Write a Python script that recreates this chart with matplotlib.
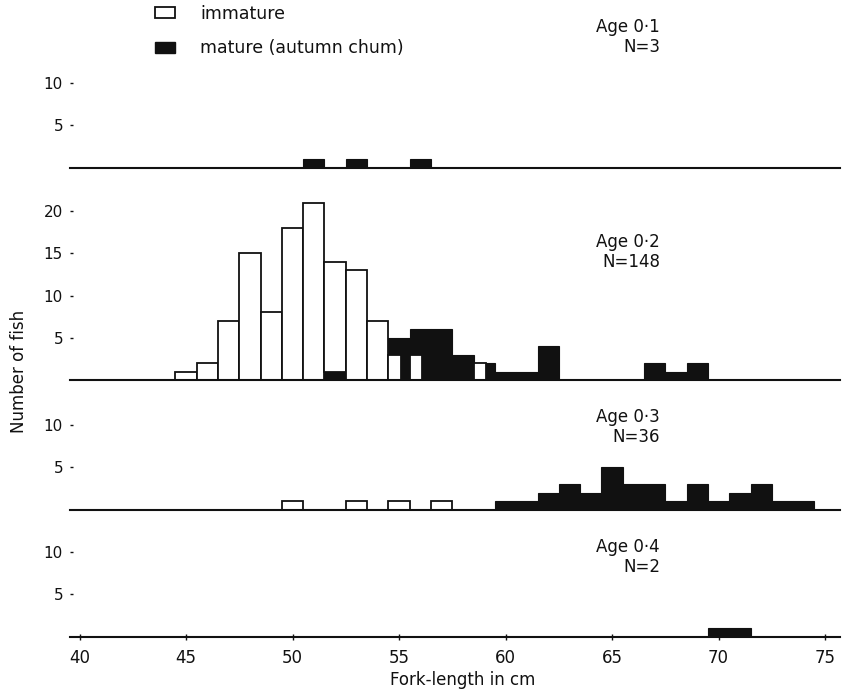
import matplotlib
matplotlib.use("Agg")
import matplotlib.pyplot as plt
from matplotlib.patches import Patch

# counts per 1-cm fork-length class
age01_mat_len = [51, 53, 56]
age01_mat_n = [1, 1, 1]

age02_imm_len = [45, 46, 47, 48, 49, 50, 51, 52, 53, 54, 55, 56, 59]
age02_imm_n = [1, 2, 7, 15, 8, 18, 21, 14, 13, 7, 3, 3, 2]
age02_mat_len = [52, 55, 56, 57, 58, 59, 60, 61, 62, 67, 68, 69]
age02_mat_n = [1, 5, 6, 6, 3, 2, 1, 1, 4, 2, 1, 2]

age03_imm_len = [50, 53, 55, 57]
age03_imm_n = [1, 1, 1, 1]
age03_mat_len = [60, 61, 62, 63, 64, 65, 66, 67, 68, 69, 70, 71, 72, 73, 74]
age03_mat_n = [1, 1, 2, 3, 2, 5, 3, 3, 1, 3, 1, 2, 3, 1, 1]

age04_mat_len = [70, 71]
age04_mat_n = [1, 1]

panel_titles = ["Age 0\u00b71\nN=3", "Age 0\u00b72\nN=148",
                "Age 0\u00b73\nN=36", "Age 0\u00b74\nN=2"]
xticks = [40, 45, 50, 55, 60, 65, 70, 75]

INK = "#111111"
W, H = 843, 691
PPU = 8.45  # pixels per fish

plt.rcParams['font.family'] = ['DejaVu Sans']

fig = plt.figure(figsize=(W / 100, H / 100), dpi=100)


def add_panel(base_px, ymax):
    top_px = base_px - ymax * PPU
    ax = fig.add_axes([70 / W, 1 - base_px / H, 770 / W, (base_px - top_px) / H])
    ax.set_xlim(39.554, 75.70)
    ax.set_ylim(0, ymax)
    for s in ["left", "right", "top"]:
        ax.spines[s].set_visible(False)
    ax.spines["bottom"].set_linewidth(1.5)
    ax.spines["bottom"].set_color(INK)
    ax.tick_params(axis="y", direction="in", length=2.5, width=1, pad=5,
                   labelsize=11, colors=INK)
    ax.tick_params(axis="x", length=0, labelbottom=False)
    return ax


def draw(ax, imm_len, imm_n, mat_len, mat_n):
    mat = dict(zip(mat_len, mat_n))
    ax.bar(mat_len, mat_n, width=1.0, color=INK, edgecolor=INK, linewidth=0.8)
    for x, n in zip(imm_len, imm_n):
        m = mat.get(x, 0)
        if m == 0:
            ax.bar(x, n, width=1.0, facecolor="white", edgecolor=INK, linewidth=1.3)
        elif n > m:
            # immature stacked on top of the mature fish
            ax.bar(x, n - m, bottom=m, width=1.0, facecolor="white",
                   edgecolor=INK, linewidth=1.3)
        else:
            # immature shown as a narrower box inside the mature bar
            ax.bar(x - 0.5, n, width=0.6, align="edge", facecolor="white",
                   edgecolor=INK, linewidth=1.3)


ax1 = add_panel(167.5, 11.5)
draw(ax1, [], [], age01_mat_len, age01_mat_n)
ax1.set_yticks([5, 10])

ax2 = add_panel(380, 23)
draw(ax2, age02_imm_len, age02_imm_n, age02_mat_len, age02_mat_n)
ax2.set_yticks([5, 10, 15, 20])

ax3 = add_panel(509.5, 11.5)
draw(ax3, age03_imm_len, age03_imm_n, age03_mat_len, age03_mat_n)
ax3.set_yticks([5, 10])

ax4 = add_panel(636.5, 11.5)
draw(ax4, [], [], age04_mat_len, age04_mat_n)
ax4.set_yticks([5, 10])
ax4.set_xticks(xticks)
ax4.tick_params(axis="x", direction="inout", length=4, width=1, pad=7,
                labelbottom=True, labelsize=12, colors=INK)

# panel labels
title_y = [37, 252, 427, 557]
for t, y in zip(panel_titles, title_y):
    fig.text(660 / W, 1 - y / H, t, ha="right", va="center", fontsize=12,
             color=INK, linespacing=1.1)

fig.text(19 / W, 1 - 371 / H, "Number of fish", rotation=90, ha="center",
         va="center", fontsize=12, color=INK)
fig.text(463 / W, 1 - 680 / H, "Fork-length in cm", ha="center",
         va="center", fontsize=12, color=INK)

handles = [Patch(facecolor="white", edgecolor=INK, linewidth=1.3),
           Patch(facecolor=INK, edgecolor=INK)]
fig.legend(handles, ["immature", "mature (autumn chum)"], loc="upper left",
           bbox_to_anchor=(155 / W, 1 - 5 / H), frameon=False, fontsize=12.5,
           handlelength=1.15, handleheight=0.6, handletextpad=1.45,
           labelspacing=0.95, borderpad=0, borderaxespad=0, labelcolor=INK)

fig.savefig("out.png", dpi=100, facecolor="white")
